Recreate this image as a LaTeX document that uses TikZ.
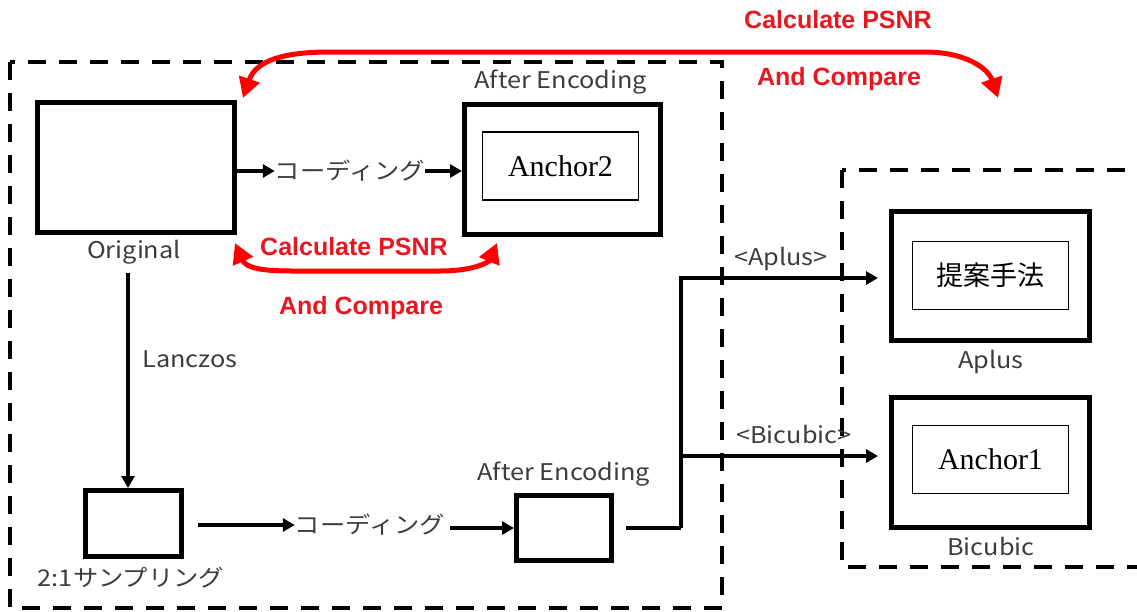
\documentclass[tikz,border=0pt]{standalone}
\usepackage{fontspec}
\setmainfont{Liberation Serif}
\newfontfamily\lblfont[FakeStretch=1.1]{Noto Sans CJK JP}
\newfontfamily\cjkfont{Noto Sans CJK JP}
\newfontfamily\redfont{Liberation Sans}
\usetikzlibrary{arrows.meta}
\definecolor{lblgray}{RGB}{60,60,60}
\definecolor{redtxt}{RGB}{232,22,30}
\tikzset{
  frame/.style={draw=black, line width=4pt, dash pattern=on 18pt off 13pt},
  imgbox/.style={draw=black, line width=5pt, inner sep=0pt},
  inbox/.style={draw=black, line width=1.5pt, inner sep=0pt, minimum width=156pt, minimum height=68pt},
  lbl/.style={text=lblgray, font=\lblfont\fontsize{23}{26}\selectfont, inner sep=0pt},
  redlbl/.style={text=redtxt, font=\redfont\bfseries\fontsize{25}{28}\selectfont, inner sep=0pt},
  conn/.style={line width=3.5pt, -{Triangle[length=12pt,width=13pt]}},
  plainline/.style={line width=3.5pt},
  cmp/.style={draw=red, line width=5pt,
    {Triangle[length=20pt,width=21pt]}-{Triangle[length=20pt,width=21pt]}},
}
\begin{document}
\begin{tikzpicture}[x=1pt,y=-1pt]
\useasboundingbox (0,0) rectangle (1137,611);
\clip (0,0) rectangle (1137,611);

% dashed group frames
\draw[frame] (10,62) rectangle (722,608);
\draw[frame] (842,170) rectangle (1160,567);

% image boxes
\node[imgbox, minimum width=197pt, minimum height=130pt] (orig) at (136,167.5) {};
\node[imgbox, minimum width=196pt, minimum height=130pt] (enc1) at (562.5,169.5) {};
\node[inbox, font=\fontsize{30}{34}\selectfont] (a2) at (560.5,166) {Anchor2};
\node[imgbox, minimum width=96pt, minimum height=66pt] (down) at (133.5,523.5) {};
\node[imgbox, minimum width=95pt, minimum height=65pt] (enc2) at (564,528) {};
\node[imgbox, minimum width=198pt, minimum height=129pt] (aplus) at (990.5,276) {};
\node[inbox, font=\cjkfont\fontsize{27}{30}\selectfont] (prop) at (990.5,275.5) {提案手法};
\node[imgbox, minimum width=198pt, minimum height=130pt] (bic) at (990.5,462.5) {};
\node[inbox, font=\fontsize{30}{34}\selectfont] (a1) at (990.5,459.5) {Anchor1};

% captions
\node[lbl, anchor=base] (lorig) at (134,258) {Original};
\node[lbl, anchor=base] (lenc1) at (561,88) {After Encoding};
\node[lbl, anchor=base] (lenc2) at (564,480) {After Encoding};
\node[lbl, anchor=base] (ldown) at (131,586) {2:1サンプリング};
\node[lbl, anchor=base] (laplus) at (991,368) {Aplus};
\node[lbl, anchor=base] (lbic) at (991,555) {Bicubic};
\node[lbl, anchor=base] (lanczos) at (190,367) {Lanczos};
\node[lbl] (code1) at (350,171) {コーディング};
\node[lbl] (code2) at (370,525) {コーディング};
\node[lbl, anchor=base] (tapl) at (781,265) {<Aplus>};
\node[lbl, anchor=base] (tbic) at (794,443) {<Bicubic>};

% processing flow
\draw[conn] (orig.east |- code1) -- (code1.west);
\draw[conn] (code1.east) -- (enc1.west |- code1);
\coordinate (lzs) at (128,273);
\draw[conn] (lzs) -- (lzs |- down.north);
\coordinate (dwe) at (198,525);
\draw[conn] (dwe) -- (code2.west);
\coordinate (c2e) at (450,528);
\draw[conn] (c2e) -- (enc2.west |- c2e);
\coordinate (e2o) at (626,528);
\coordinate (split) at (681,528);
\coordinate (ta) at (878,278);
\coordinate (tb) at (878,456);
\draw[plainline] (e2o) -- (split);
\draw[conn] (split) -- (split |- ta) -- (ta);
\draw[conn] (split |- tb) -- (tb);

% PSNR comparisons
\coordinate (m1) at (235,243);
\coordinate (m2) at (497,243);
\draw[cmp] (m1) .. controls (246,268) and (262,271) .. (292,271)
  -- (440,271) .. controls (474,271) and (489,262) .. (m2);
\coordinate (t1) at (243,98);
\coordinate (t2) at (998,98);
\draw[cmp] (t1) .. controls (256,60) and (285,52) .. (330,52)
  -- (925,52) .. controls (965,52) and (988,68) .. (t2);

\node[redlbl, anchor=base] (r1a) at (354,255) {Calculate PSNR};
\node[redlbl, anchor=base] (r1b) at (361,314) {And Compare};
\node[redlbl, anchor=base] (r2a) at (838,28) {Calculate PSNR};
\node[redlbl, anchor=base] (r2b) at (839,85) {And Compare};
\end{tikzpicture}
\end{document}
